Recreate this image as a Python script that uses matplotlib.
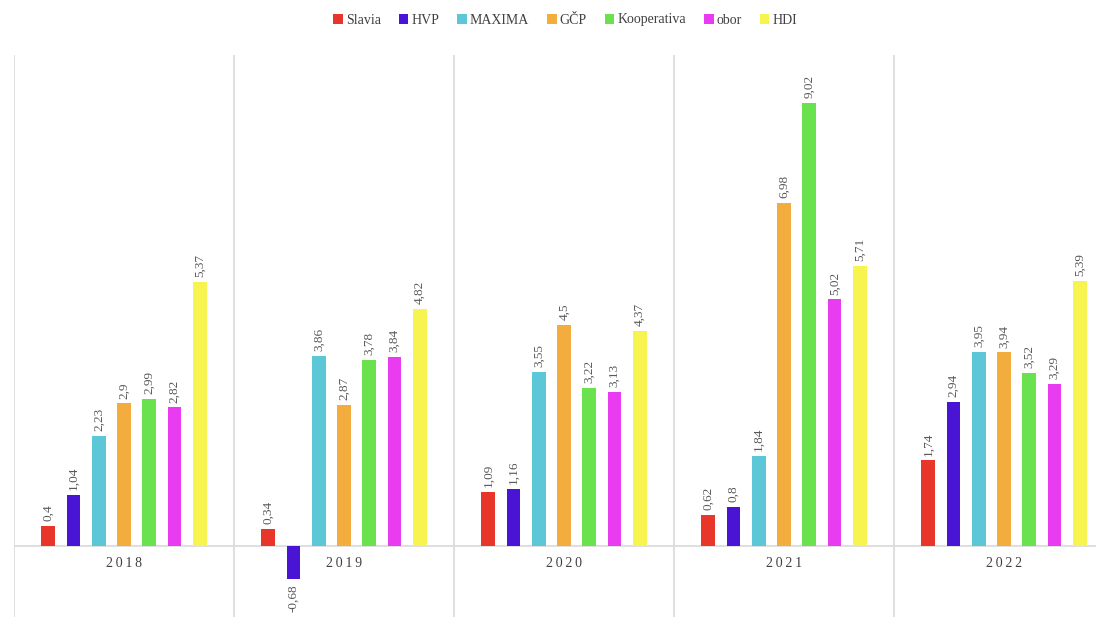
import matplotlib.pyplot as plt
import numpy as np

years = ['2018', '2019', '2020', '2021', '2022']
series = ['Slavia', 'HVP', 'MAXIMA', 'GČP', 'Kooperativa', 'obor', 'HDI']
colors = ['#E8372A', '#4A14D4', '#5BC7D7', '#F3AD3E', '#69E24E', '#E93CF0', '#F8F44F']

slavia = [0.4, 0.34, 1.09, 0.62, 1.74]
hvp = [1.04, -0.68, 1.16, 0.8, 2.94]
maxima = [2.23, 3.86, 3.55, 1.84, 3.95]
gcp = [2.9, 2.87, 4.5, 6.98, 3.94]
kooperativa = [2.99, 3.78, 3.22, 9.02, 3.52]
obor = [2.82, 3.84, 3.13, 5.02, 3.29]
hdi = [5.37, 4.82, 4.37, 5.71, 5.39]
values = [slavia, hvp, maxima, gcp, kooperativa, obor, hdi]

plt.rcParams['font.family'] = ['Liberation Serif', 'DejaVu Serif']

W, H = 1096, 617
fig = plt.figure(figsize=(W / 100, H / 100), dpi=100)
# axes span a bit past the figure edges (chart is cropped on right/bottom)
left_px, right_px, top_px, bot_px = 14, 1114, 55, 644
ax = fig.add_axes([left_px / W, 1 - bot_px / H,
                   (right_px - left_px) / W, (bot_px - top_px) / H])

x = np.arange(len(years))
step = 0.115
width = 0.062
for i, (name, vals, c) in enumerate(zip(series, values, colors)):
    xs = x + (i - 3) * step
    ax.bar(xs, vals, width, color=c, label=name, zorder=3)
    for xi, v in zip(xs, vals):
        txt = f'{v:g}'.replace('.', ',')
        if v >= 0:
            ax.text(xi, v + 0.1, txt, rotation=90, ha='center', va='bottom',
                    fontsize=9.5, color='#595959')
        else:
            ax.text(xi, v - 0.1, txt, rotation=90, ha='center', va='top',
                    fontsize=9.5, color='#595959')

for k in range(len(years) + 1):
    ax.axvline(k - 0.5, color='#d9d9d9', lw=1.2, zorder=1)
ax.axhline(0, color='#d9d9d9', lw=1.2, zorder=2)

for xi, yr in zip(x, years):
    ax.text(xi, -0.22, '\u2009'.join(yr), ha='center', va='top',
            fontsize=10, color='#404040')

ax.set_xlim(-0.5, len(years) - 0.5)
ax.set_ylim(-2, 10)
ax.set_xticks([])
ax.set_yticks([])
for s in ax.spines.values():
    s.set_visible(False)

fig.legend(loc='center', bbox_to_anchor=(565 / W, 1 - 20 / H), ncol=7,
           frameon=False, fontsize=10, handlelength=0.7, handleheight=0.7,
           handletextpad=0.2, columnspacing=1.3, labelcolor='#404040')

fig.savefig('out.png', dpi=100)
